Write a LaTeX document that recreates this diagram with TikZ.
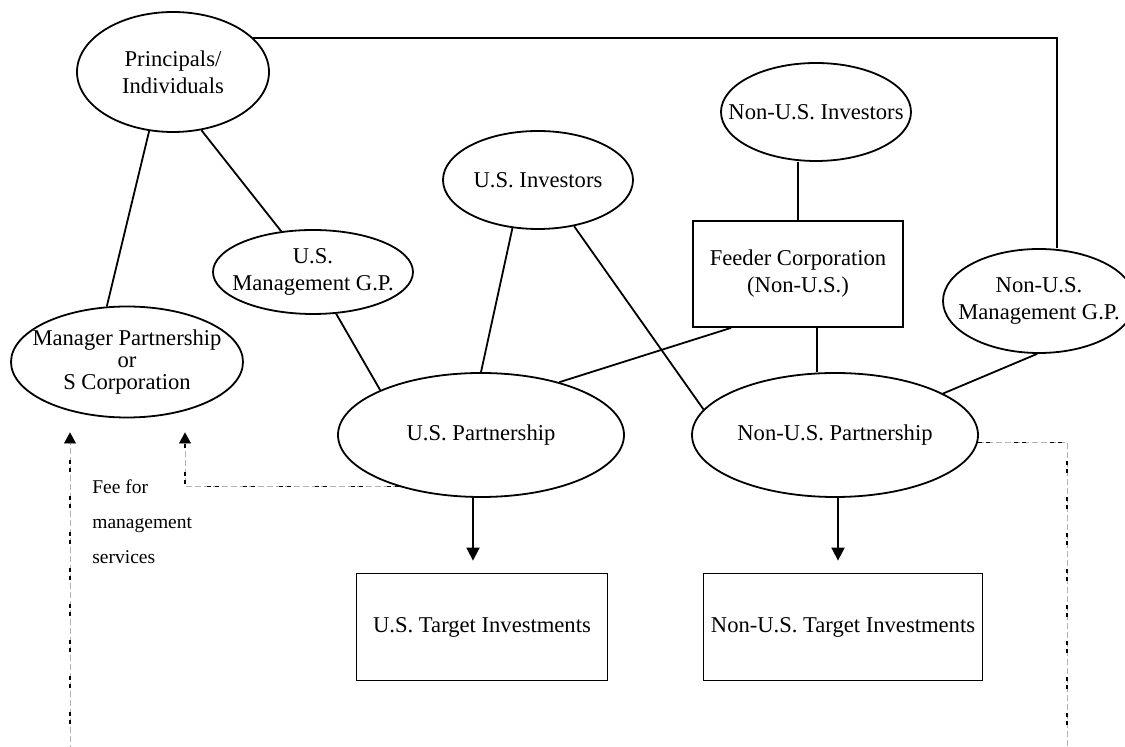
\documentclass[tikz,border=0pt]{standalone}
\usepackage{fontspec}
\setmainfont{Liberation Serif}
\usetikzlibrary{shapes.geometric,positioning,calc,arrows.meta}
\tikzset{entity/.style={draw=black, ellipse, line width=0.9pt, inner sep=-60pt, align=center, font=\fontsize{11.3}{13.5}\selectfont}}
\tikzset{company/.style={draw=black, rectangle, line width=0.9pt, inner sep=0pt, align=center, font=\fontsize{11.3}{13.5}\selectfont}}
\tikzset{link/.style={draw=black, line width=0.9pt}}
\tikzset{flow/.style={link, -{Triangle[width=6.5pt,length=6.5pt]}, shorten >=6pt}}
\tikzset{fee/.style={draw=black!30, line width=0.5pt, dash pattern=on 3pt off 1.5pt, -{Triangle[width=5.8pt,length=5.5pt]}, shorten >=7pt,
  postaction={draw=black, line width=0.8pt, dash pattern=on 2pt off 2pt on 2pt off 12pt}}}
\tikzset{feetext/.style={align=left, inner sep=0pt, font=\fontsize{9.75}{17.5}\selectfont}}

\begin{document}
\begin{tikzpicture}[x=0.5pt,y=-0.5pt]
\useasboundingbox (0,0) rectangle (1125,747);
% owners and investors
\node[entity, minimum width=96pt, minimum height=60pt] (prin) at (173,72) {Principals/\\Individuals};
\node[entity, minimum width=95pt, minimum height=49pt] (usinv) at (538,180) {U.S. Investors};
\node[entity, minimum width=95pt, minimum height=49pt] (nusinv) at (816,112) {Non-U.S. Investors};
\node[company, minimum width=105pt, minimum height=53pt] (feeder) at (798,274) {Feeder Corporation\\(Non-U.S.)};
\node[entity, minimum width=100pt, minimum height=42pt] (usgp) at (313,272) {U.S.\\Management G.P.};
\node[entity, minimum width=96pt, minimum height=52pt] (nusgp) at (1039,301) {Non-U.S.\\Management G.P.};
\node[entity, minimum width=116pt, minimum height=55.5pt, font=\fontsize{11.3}{11}\selectfont] (mgr) at (127,362) {Manager Partnership\\or\\S Corporation};
% funds
\node[entity, minimum width=143pt, minimum height=62pt] (usp) at (481,435) {U.S. Partnership};
\node[entity, minimum width=143pt, minimum height=62pt] (nusp) at (835,435) {Non-U.S. Partnership};
\node[company, minimum width=125.5pt, minimum height=53.5pt] (ust) at (482,627) {U.S. Target Investments};
\node[company, minimum width=139.5pt, minimum height=53.5pt] (nust) at (843,627) {Non-U.S. Target Investments};
\node[feetext, anchor=north west] (fee) at (92,479) {Fee for\\management\\services};
\coordinate (feeL) at (70,760);
\coordinate (feeR) at (1067,760);

% ownership lines
\draw[link] (prin.248) -- (mgr.110);
\draw[link] (prin.-64) -- (usgp.128);
\draw[link] (prin.23) -| ([xshift=9pt]nusgp.north);
\draw[link] (usgp.-61) -- (usp.156);
\draw[link] (usinv.-118) -- (usp.north);
\draw[link] (usinv.-52) -- (nusp.169);
\draw[link] ([xshift=-33.5pt]feeder.south) -- (usp.34);
\draw[link] (feeder.north |- nusinv.south) -- (feeder.north);
\draw[link] ([xshift=9.5pt]feeder.south) -- ([xshift=9.5pt]feeder.south |- nusp.north);
\draw[link] (nusgp.-92) -- (nusp.21);
\draw[flow] ([xshift=-4pt]usp.south) -- ([xshift=-4pt]usp.south |- ust.north);
\draw[flow] ([xshift=1.5pt]nusp.south) -- ([xshift=1.5pt]nusp.south |- nust.north);

% fees
\draw[fee] (usp.-148) -| ([xshift=29pt]mgr.south);
\draw[fee] (feeL) -- (feeL |- mgr.south);
\draw[fee, -, shorten >=0pt] (nusp.-3) -| (feeR);
\end{tikzpicture}
\end{document}
